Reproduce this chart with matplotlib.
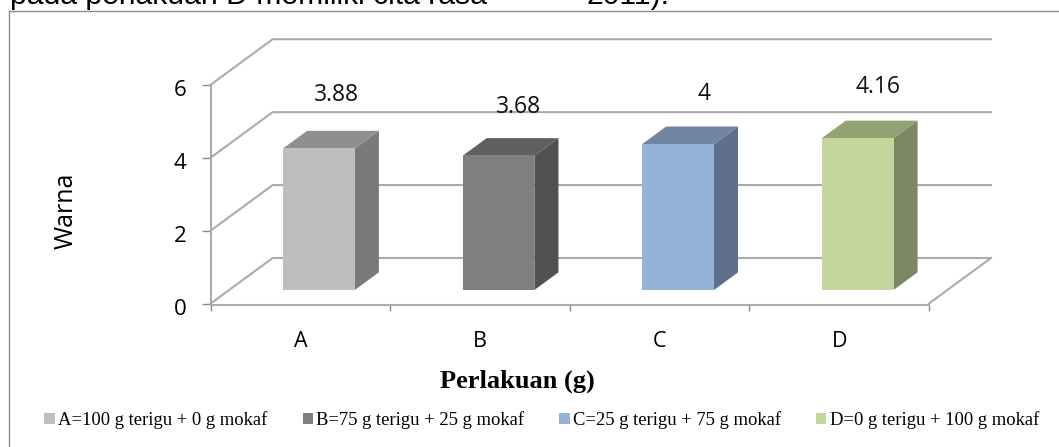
import matplotlib
matplotlib.use('Agg')
import matplotlib.pyplot as plt
from matplotlib.lines import Line2D
from matplotlib.patches import Patch, Polygon
from matplotlib.transforms import ScaledTranslation

categories = ['A', 'B', 'C', 'D']
values = [3.88, 3.68, 4, 4.16]
value_labels = ['3.88', '3.68', '4', '4.16']
legend_labels = ['A=100 g terigu + 0 g mokaf', 'B=75 g terigu + 25 g mokaf',
                 'C=25 g terigu + 75 g mokaf', 'D=0 g terigu + 100 g mokaf']
y_ticks = [0, 2, 4, 6]

front_colors = ['#BEBEBE', '#7F7F7F', '#95B3D7', '#C3D69B']
side_colors = ['#7A7A7A', '#505050', '#5F7189', '#7C8863']
top_colors = ['#8F8F8F', '#5F5F5F', '#7086A3', '#92A272']
grid_color = '#ABABAB'

W, H = 1059, 447

# plot box in pixels
left_px, right_px = 210.7, 929
zero_px, six_px = 303.5, 84.7

# oblique projection, depth 1 is the back wall
depth_x = 62 / ((right_px - left_px) / 4)
depth_y = 45.5 / ((zero_px - six_px) / 6)
bar_width = 0.4
bar_d0 = 0.297
bar_d1 = 0.685

# data label anchors (centre, baseline) in pixels, they sit unevenly in the original
label_px = [(336, 101), (518.7, 112.7), (704, 100), (878, 92.7)]


def project(x, v, d):
    return (x + d * depth_x, v + d * depth_y)


def fx(px):
    return px / W


def fy(py):
    return 1 - py / H


fig = plt.figure(figsize=(W / 100, H / 100), dpi=100)
ax = fig.add_axes([fx(left_px), fy(zero_px), (right_px - left_px) / W, (zero_px - six_px) / H])
ax.set_xlim(0, 4)
ax.set_ylim(0, 6)
ax.patch.set_visible(False)

for v in y_ticks:
    pts = [project(0, v, 0), project(0, v, 1), project(4, v, 1)]
    ax.plot([p[0] for p in pts], [p[1] for p in pts], color=grid_color, lw=1.5,
            clip_on=False, zorder=1, solid_joinstyle='miter')
pts = [project(4, 0, 0), project(4, 0, 1)]
ax.plot([p[0] for p in pts], [p[1] for p in pts], color=grid_color, lw=1.5, clip_on=False, zorder=1)

for i, val in enumerate(values):
    x0 = i + 0.5 - bar_width / 2
    x1 = i + 0.5 + bar_width / 2
    front = [project(x0, 0, bar_d0), project(x1, 0, bar_d0), project(x1, val, bar_d0), project(x0, val, bar_d0)]
    side = [project(x1, 0, bar_d0), project(x1, 0, bar_d1), project(x1, val, bar_d1), project(x1, val, bar_d0)]
    top = [project(x0, val, bar_d0), project(x1, val, bar_d0), project(x1, val, bar_d1), project(x0, val, bar_d1)]
    ax.add_patch(Polygon(side, facecolor=side_colors[i], edgecolor='none', clip_on=False, zorder=3))
    ax.add_patch(Polygon(top, facecolor=top_colors[i], edgecolor='none', clip_on=False, zorder=3))
    ax.add_patch(Polygon(front, facecolor=front_colors[i], edgecolor='none', clip_on=False, zorder=4))

for s in ['top', 'right']:
    ax.spines[s].set_visible(False)
for s in ['left', 'bottom']:
    ax.spines[s].set_color(grid_color)
    ax.spines[s].set_linewidth(1.5)
# floor edge runs just under the zero tick
ax.spines['bottom'].set_position(('outward', 1))

ax.set_yticks(y_ticks)
ax.set_xticks([0, 1, 2, 3, 4])
ax.set_xticklabels([])
ax.set_xticks([0.5, 1.5, 2.5, 3.5], minor=True)
ax.set_xticklabels(categories, minor=True, family='Open Sans', fontsize=15.5)
ax.tick_params(axis='x', which='major', direction='out', length=4.5, width=1, color='#8C8C8C')
ax.tick_params(axis='x', which='minor', length=0, pad=19)
ax.tick_params(axis='y', direction='out', length=6.5, width=1, color='#8C8C8C', pad=11)
# the value labels hang a little below their ticks
shift = ScaledTranslation(0, -2.5 / 72, fig.dpi_scale_trans)
for t in ax.get_yticklabels():
    t.set_family('Open Sans')
    t.set_fontsize(16)
    t.set_transform(t.get_transform() + shift)

for (px, py), lab in zip(label_px, value_labels):
    fig.text(fx(px), fy(py), lab, ha='center', va='baseline', family='Open Sans', fontsize=16.5, color='#111111')

fig.text(fx(66), fy(211), 'Warna', rotation=90, ha='center', va='center', family='Open Sans', fontsize=18)
fig.text(fx(517), fy(387.5), 'Perlakuan (g)', ha='center', va='baseline', family='Liberation Serif',
         weight='bold', fontsize=19)

# text of the page above the chart, cut by the image edge
fig.text(fx(10), fy(4), 'pada perlakuan D memiliki cita rasa', ha='left', va='baseline',
         family='Liberation Sans', fontsize=21.7)
fig.text(fx(586), fy(4), '2011).', ha='left', va='baseline', family='Liberation Sans', fontsize=21.7)

# page frame, open on the right and bottom
fig.add_artist(Line2D([fx(8.5), fx(8.5), 1], [0, fy(10.5), fy(10.5)], color='#8C8C8C', lw=1))

handles = [Patch(facecolor=c, edgecolor='none') for c in front_colors]
fig.legend(handles, legend_labels, ncol=4, loc='center', bbox_to_anchor=(fx(542), fy(420)), frameon=False,
           prop={'family': 'Liberation Serif', 'size': 13.4}, handlelength=0.54, handleheight=0.54,
           handletextpad=0.2, columnspacing=1.88, borderpad=0, borderaxespad=0)

fig.savefig('out.png', dpi=100)
plt.close()
